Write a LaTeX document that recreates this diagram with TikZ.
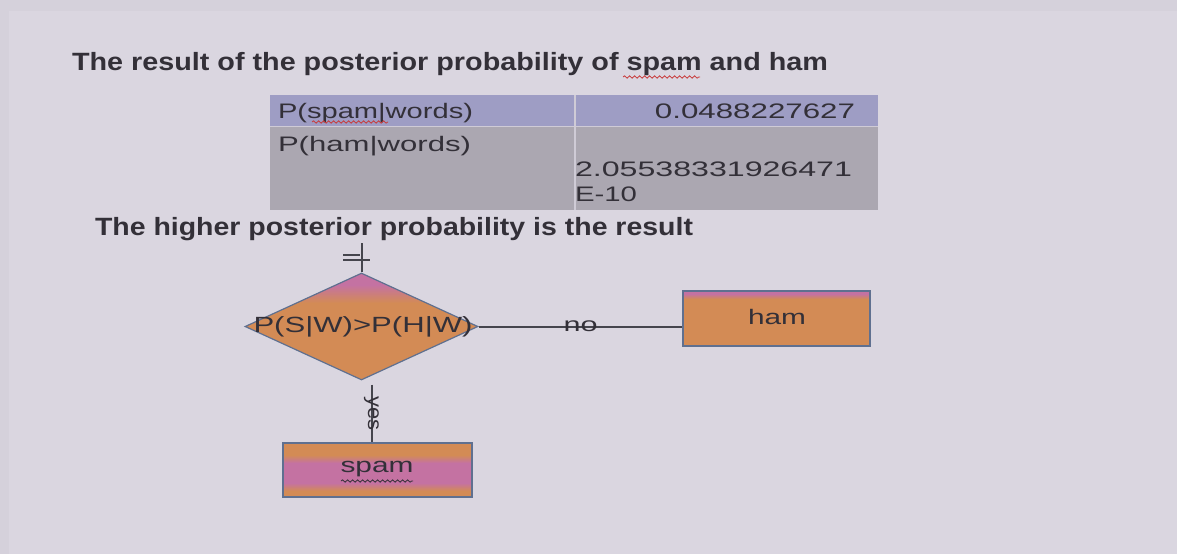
\documentclass[tikz,border=0pt]{standalone}
\usepackage{fontspec}
\setmainfont{Liberation Sans}
\usetikzlibrary{shapes.geometric,decorations.pathmorphing}
\definecolor{bgout}{HTML}{D5D1DB}
\definecolor{bg}{HTML}{DAD6E0}
\definecolor{rowa}{HTML}{9E9DC4}
\definecolor{rowb}{HTML}{ABA7B1}
\definecolor{sep}{HTML}{CFCBD6}
\definecolor{orng}{HTML}{D38B55}
\definecolor{pnk}{HTML}{C472A2}
\definecolor{edgec}{HTML}{5F7090}
\definecolor{ink}{HTML}{333038}
\definecolor{linec}{HTML}{45454D}
\definecolor{squig}{HTML}{C83A3A}
\newcommand\fitw[2]{\resizebox{#1}{\height}{#2}}
% vertical gradient strips inside a path picture: start offset, length, from colour, to colour
\newcommand\vgrad[4]{\foreach \i in {0,...,#2}{\pgfmathtruncatemacro\pc{100-100*\i/#2}%
  \fill[#3!\pc!#4] ([yshift={-(#1+\i)*1pt}]path picture bounding box.north west) rectangle ([yshift={-(#1+\i+1.3)*1pt}]path picture bounding box.north east);}}
\newcommand\vband[3]{\fill[#3] ([yshift={-(#1)*1pt}]path picture bounding box.north west) rectangle ([yshift={-(#2)*1pt}]path picture bounding box.north east);}
\begin{document}
\begin{tikzpicture}[x=1pt,y=-1pt,
  txt/.style={inner sep=0pt, outer sep=0pt, text=ink},
  head/.style={txt, font=\fontsize{25}{30}\selectfont\bfseries},
  cell/.style={txt, font=\fontsize{21}{25}\selectfont},
  lbl/.style={txt, font=\fontsize{21}{25}\selectfont},
  conn/.style={draw=linec, line width=2pt},
  box/.style={draw=edgec, line width=1.2pt, fill=orng, rectangle, inner sep=0pt},
  wavy/.style={draw=squig, line width=0.8pt, decorate, decoration={snake, amplitude=1.2pt, segment length=5pt}}
]
\useasboundingbox (0,0) rectangle (1177,554);
\fill[bgout] (0,0) rectangle (1177,554);
\fill[bg] (9,11) rectangle (1177,554);

% title
\node[head, anchor=base west] (title) at (72,70) {\fitw{756pt}{The result of the posterior probability of spam and ham}};
\draw[wavy] (623,77) -- (700,77);

% table
\fill[rowa] (270,95) rectangle (878,126);
\fill[rowb] (270,127) rectangle (878,210);
\draw[sep, line width=1.5pt] (270,126.5) -- (878,126.5);
\draw[sep, line width=1.5pt] (575,95) -- (575,210);
\node[cell, anchor=base west] (c11) at (278,118) {\fitw{195pt}{P(spam|words)}};
\draw[wavy] (312,122) -- (388,122);
\node[cell, anchor=base east] (c12) at (855,118) {\fitw{200pt}{0.0488227627}};
\node[cell, anchor=base west] (c21) at (278,151) {\fitw{193pt}{P(ham|words)}};
\node[cell, anchor=base west] (c22) at (575,176) {\fitw{277pt}{2.05538331926471}};
\node[cell, anchor=base west] (c23) at (575,201) {\fitw{62pt}{E-10}};

% second line
\node[head, anchor=base west] (sub) at (95,235) {\fitw{598pt}{The higher posterior probability is the result}};

% diamond
\node[diamond, draw=edgec, line width=1.2pt, fill=orng, minimum width=233pt, minimum height=107pt, inner sep=0pt,
  path picture={\vband{0}{12}{pnk}\vgrad{12}{18}{pnk}{orng}}] (dia) at (361.5,326.5) {};
\node[lbl, font=\fontsize{22}{26}\selectfont] (diat) at (363,327) {\fitw{219pt}{P(S|W)>P(H|W)}};

% boxes
\node[box, minimum width=187pt, minimum height=55pt,
  path picture={\vband{0}{3}{pnk}\vgrad{3}{5}{pnk}{orng}}] (ham) at (776.5,318.5) {};
\node[lbl] (hamt) at (777,317) {\fitw{58pt}{ham}};

\node[box, minimum width=189pt, minimum height=54pt,
  path picture={\vgrad{12}{8}{orng}{pnk}\vband{20}{40}{pnk}\vgrad{40}{8}{pnk}{orng}}] (spam) at (377.5,470) {};
\node[lbl] (spamt) at (377,469) {\fitw{73pt}{spam}};
\draw[draw=ink, line width=0.8pt, decorate, decoration={snake, amplitude=1.2pt, segment length=5pt}] (341,481) -- (413,481);

% connectors
\coordinate (topend) at (361.5,243);
\draw[conn] (topend) -- (dia.north);
\draw[conn] (343,255) -- (360,255);
\draw[conn] (343,259.5) -- (370,259.5);
\draw[conn] (dia.east) -- node[lbl, font=\fontsize{20}{24}\selectfont, pos=0.5] (no) {\fitw{34pt}{no}} (dia.east -| ham.west);
\draw[conn] ([xshift=10pt,yshift=-4pt]dia.south) -- node[lbl, font=\fontsize{20}{24}\selectfont, rotate=-90, pos=0.5] (yes) {\fitw{34pt}{yes}} ([xshift=10pt]dia.south |- spam.north);
\end{tikzpicture}
\end{document}
